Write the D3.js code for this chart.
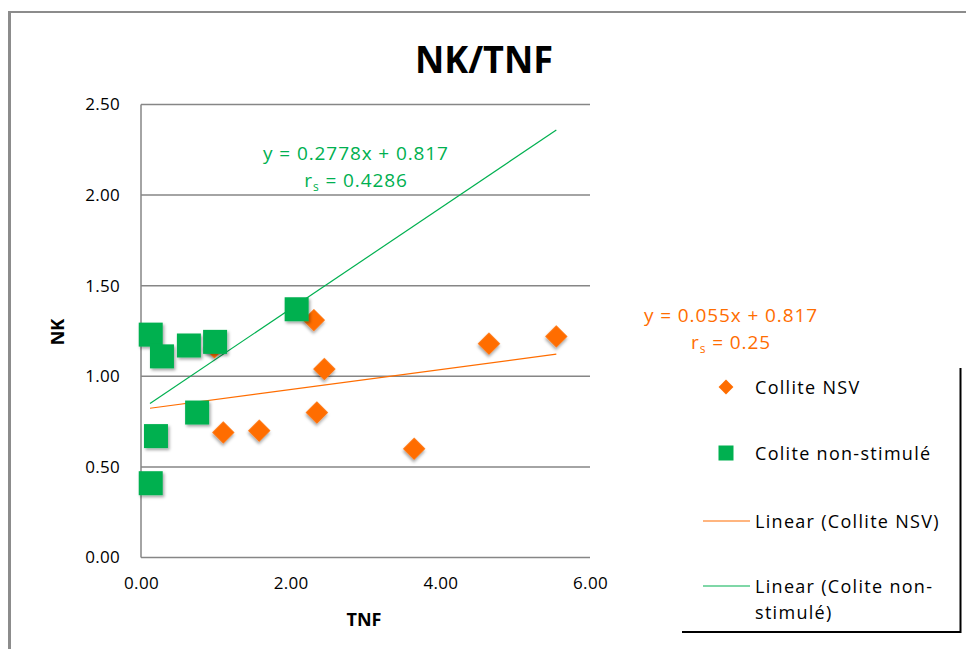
<!DOCTYPE html>
<html><head><meta charset="utf-8">
<script src="https://cdn.jsdelivr.net/npm/d3@7"></script>
<style>body{margin:0;background:#fff}svg{display:block}text{font-family:"Open Sans","Liberation Sans",sans-serif}</style>
</head><body><svg id="c" width="966" height="649"></svg>
<script>
const nsvX = [2.31, 0.98, 2.45, 2.35, 1.10, 1.58, 4.65, 5.55, 3.65];
const nsvY = [1.31, 1.16, 1.04, 0.80, 0.69, 0.70, 1.18, 1.22, 0.60];
const nsX = [0.13, 0.28, 0.64, 0.99, 2.08, 0.75, 0.20, 0.13];
const nsY = [1.23, 1.11, 1.17, 1.19, 1.37, 0.80, 0.67, 0.41];
const xTicks = [0, 2, 4, 6];
const yTicks = [0, 0.5, 1, 1.5, 2, 2.5];
const trendNSV = {slope: 0.055, intercept: 0.817, x0: 0.12, x1: 5.55};
const trendNS = {slope: 0.2778, intercept: 0.817, x0: 0.12, x1: 5.55};
const eqNSV = ["y = 0.055x + 0.817", "0.25"];
const eqNS = ["y = 0.2778x + 0.817", "0.4286"];
const legendLabels = ["Collite NSV", "Colite non-stimulé", "Linear (Collite NSV)", ["Linear (Colite non-", "stimulé)"]];
const ORANGE = "#FF6D00", GREEN = "#00B050";

const svg = d3.select("#c");
const defs = svg.append("defs");
const f = defs.append("filter").attr("id","sh").attr("x","-50%").attr("y","-50%").attr("width","200%").attr("height","200%");
f.append("feDropShadow").attr("dx",1.5).attr("dy",2).attr("stdDeviation",1.5).attr("flood-color","#000").attr("flood-opacity",0.35);

// outer frame
svg.append("line").attr("x1",8).attr("x2",966).attr("y1",12).attr("y2",12).attr("stroke","#8c8c8c").attr("stroke-width",2);
svg.append("line").attr("x1",9.5).attr("x2",9.5).attr("y1",11).attr("y2",649).attr("stroke","#8c8c8c").attr("stroke-width",3);

const x = d3.scaleLinear().domain([0,6]).range([141,590]);
const y = d3.scaleLinear().domain([0,2.5]).range([557.5,104.5]);

// gridlines
svg.append("g").selectAll("line").data(yTicks).join("line")
  .attr("x1",141).attr("x2",590).attr("y1",d=>y(d)).attr("y2",d=>y(d))
  .attr("stroke","#868686").attr("stroke-width",1.5);
svg.append("line").attr("x1",141).attr("x2",141).attr("y1",y(2.5)).attr("y2",y(0)).attr("stroke","#868686").attr("stroke-width",1.5);

// axes labels
const ya = svg.append("g").attr("transform","translate(141,0)").call(d3.axisLeft(y).tickValues(yTicks).tickFormat(d3.format(".2f")).tickSize(0).tickPadding(21));
ya.select(".domain").remove();
ya.selectAll("text").attr("font-size",17).attr("fill","#000").attr("font-family","Open Sans").attr("letter-spacing",0.3);
const xa = svg.append("g").attr("transform","translate(0,557.5)").call(d3.axisBottom(x).tickValues(xTicks).tickFormat(d3.format(".2f")).tickSize(0).tickPadding(19));
xa.select(".domain").remove();
xa.selectAll("text").attr("font-size",17).attr("fill","#000").attr("font-family","Open Sans").attr("letter-spacing",0.3);

svg.append("text").attr("x",484).attr("y",73).attr("text-anchor","middle").attr("font-size",38).attr("font-weight","bold")
  .attr("textLength",138).attr("lengthAdjust","spacingAndGlyphs").text("NK/TNF");
svg.append("text").attr("x",364).attr("y",626).attr("text-anchor","middle").attr("font-size",18).attr("font-weight","bold").text("TNF");
svg.append("text").attr("transform","translate(64,332) rotate(-90)").attr("text-anchor","middle").attr("font-size",18).attr("font-weight","bold").text("NK");

// trendlines
function trend(t,color){
  svg.append("line").attr("x1",x(t.x0)).attr("x2",x(t.x1))
    .attr("y1",y(t.slope*t.x0+t.intercept)).attr("y2",y(t.slope*t.x1+t.intercept))
    .attr("stroke",color).attr("stroke-width",1.2);
}
trend(trendNSV, ORANGE);
trend(trendNS, GREEN);

// points
svg.append("g").selectAll("path").data(nsvX.map((v,i)=>[v,nsvY[i]])).join("path")
  .attr("d", d3.symbol().type(d3.symbolSquare).size(250))
  .attr("transform",d=>`translate(${x(d[0])},${y(d[1])}) rotate(45)`)
  .attr("fill",ORANGE).attr("filter","url(#sh)");
svg.append("g").selectAll("rect").data(nsX.map((v,i)=>[v,nsY[i]])).join("rect")
  .attr("x",d=>x(d[0])-12).attr("y",d=>y(d[1])-12).attr("width",24).attr("height",24)
  .attr("fill",GREEN).attr("filter","url(#sh)");

// equations
function eq(lines,cx,y0,color){
  svg.append("text").attr("x",cx).attr("y",y0).attr("text-anchor","middle").attr("font-size",19).attr("letter-spacing",0.9).attr("fill",color).text(lines[0]);
  const t = svg.append("text").attr("x",cx).attr("y",y0+27).attr("text-anchor","middle").attr("font-size",19).attr("letter-spacing",0.9).attr("fill",color);
  t.append("tspan").text("r");
  t.append("tspan").attr("font-size",12).attr("dy",4).text("s");
  t.append("tspan").attr("dy",-4).text(" = "+lines[1]);
}
eq(eqNS, 356, 160, GREEN);
eq(eqNSV, 731, 322, ORANGE);

// legend
svg.append("line").attr("x1",960.5).attr("x2",960.5).attr("y1",368).attr("y2",633).attr("stroke","#000").attr("stroke-width",2);
svg.append("line").attr("x1",682).attr("x2",961).attr("y1",632).attr("y2",632).attr("stroke","#000").attr("stroke-width",2);
const lg = svg.append("g");
lg.append("path").attr("d",d3.symbol().type(d3.symbolSquare).size(110)).attr("transform","translate(726,387) rotate(45)").attr("fill",ORANGE);
lg.append("rect").attr("x",718.5).attr("y",445.5).attr("width",15).attr("height",15).attr("fill",GREEN);
lg.append("line").attr("x1",703).attr("x2",750).attr("y1",521).attr("y2",521).attr("stroke",ORANGE).attr("stroke-width",1.2);
lg.append("line").attr("x1",703).attr("x2",750).attr("y1",586).attr("y2",586).attr("stroke",GREEN).attr("stroke-width",1.2);
const ly = [394, 460, 528, 593];
legendLabels.forEach((l,i)=>{
  const t = lg.append("text").attr("x",755).attr("y",ly[i]).attr("font-size",18).attr("letter-spacing",1.3).attr("fill","#000");
  if (Array.isArray(l)) { t.text(l[0]); lg.append("text").attr("x",755).attr("y",ly[i]+26).attr("font-size",18).attr("letter-spacing",1.3).text(l[1]); }
  else t.text(l);
});
</script></body></html>
